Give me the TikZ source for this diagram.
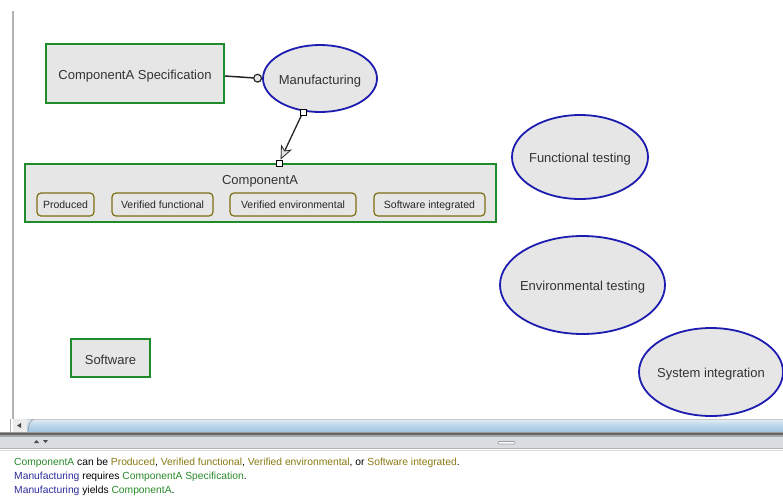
\documentclass[tikz,border=0pt]{standalone}
\usepackage{fontspec}
\setmainfont{Liberation Sans}
\usetikzlibrary{shapes.geometric,arrows.meta}
\definecolor{objgreen}{HTML}{1E8C2A}
\definecolor{procblue}{HTML}{1C1CB0}
\definecolor{stateolive}{HTML}{7D6E10}
\definecolor{boxfill}{HTML}{E6E6E6}
\definecolor{txtgreen}{HTML}{2A8A2A}
\definecolor{txtolive}{HTML}{8A7A12}
\definecolor{txtblue}{HTML}{2B2B9B}
\definecolor{barTop}{HTML}{E4EEF6}
\definecolor{barMid}{HTML}{BBD6EA}
\definecolor{barBot}{HTML}{A3C6E1}
\definecolor{paneGray}{HTML}{D9DCE0}
\tikzset{
  object/.style={draw=objgreen, line width=2pt, fill=boxfill, rectangle, inner sep=0pt,
    font=\fontsize{13}{15}\selectfont, text=black!80, text height=12.5pt, text depth=0pt},
  process/.style={draw=procblue, line width=1.8pt, fill=boxfill, ellipse, inner xsep=-6pt, inner ysep=0pt,
    font=\fontsize{13}{15}\selectfont, text=black!80, text height=11.5pt, text depth=0pt},
  statebox/.style={draw=stateolive, line width=1.2pt, fill=boxfill, rectangle, rounded corners=4pt,
    inner sep=0pt, minimum height=23pt, font=\fontsize{10.5}{12}\selectfont, text=black!85,
    text height=8.5pt, text depth=0pt},
  port/.style={draw=black, fill=white, line width=0.8pt, rectangle, inner sep=0pt, minimum size=6pt},
  link/.style={draw=black!85, line width=1.5pt},
}
\begin{document}
\begin{tikzpicture}[x=1pt,y=-1pt]
\useasboundingbox (0,0) rectangle (783,496);
\fill[white] (0,0) rectangle (783,496);

% canvas left edge
\draw[black!30, line width=1.5pt] (13,11) -- (13,419);

% things
\node[object, minimum width=178pt, minimum height=59pt] (spec) at (135,73.5) {ComponentA Specification};
\node[object, minimum width=471pt, minimum height=58pt] (compA) at (260.5,193) {};
\node[font=\fontsize{13}{15}\selectfont, text=black!80, text height=9.5pt, text depth=0pt, inner sep=0pt] (compAlabel) at (260,180) {ComponentA};
\node[statebox, minimum width=57pt] (produced) at (65.5,204.5) {Produced};
\node[statebox, minimum width=101pt] (verfunc) at (162.5,204.5) {Verified functional};
\node[statebox, minimum width=126pt] (verenv) at (293,204.5) {Verified environmental};
\node[statebox, minimum width=111pt] (swint) at (429.5,204.5) {Software integrated};
\node[object, minimum width=79pt, minimum height=38pt] (software) at (110.5,358) {Software};

% processes
\node[process, minimum width=114pt, minimum height=67pt] (mfg) at (320,78.5) {Manufacturing};
\node[process, minimum width=136pt, minimum height=84pt] (func) at (580,157) {Functional testing};
\node[process, minimum width=165pt, minimum height=98pt] (env) at (582.5,285) {Environmental testing};
\node[process, minimum width=144pt, minimum height=88pt] (sysint) at (711,372) {System integration};

% instrument link
\draw[link, -{Circle[open, length=9pt, fill=boxfill, line width=1.2pt]}] ([yshift=-2.5pt]spec.east) -- (mfg.west);

% result link
\node[port] (outport) at (303,112) {};
\node[port] (inport) at (279,163) {};
\draw[link, line width=1.3pt, -{Stealth[length=14pt, width=12pt, inset=4pt, fill=black!10, line width=0.8pt]}]
  (outport) -- (inport);
\node[port] at (303,112) {};
\node[port] at (279,163) {};

% horizontal scroll bar
\shade[top color=barTop, bottom color=barBot, middle color=barMid] (13,419) rectangle (783,431.5);
\draw[black!22, line width=0.8pt] (13,419.4) -- (783,419.4);
\fill[black!8] (13,419) rectangle (27,431.5);
\draw[black!40, line width=0.6pt] (28,431.5) .. controls (29,424) and (30,420) .. (34,419.5);
\fill[black!70] (17,425.5) -- (21,423) -- (21,428) -- cycle;
\draw[black!30, line width=1pt] (10,419) -- (10,432);

% split pane divider
\fill[black!40] (0,431.5) rectangle (783,433);
\fill[black!60] (0,433) rectangle (783,435);
\fill[black!35] (0,435) rectangle (783,437);
\fill[paneGray] (0,437) rectangle (783,448);
\draw[black!30, line width=0.8pt] (0,448.5) -- (783,448.5);
\draw[black!15, line width=0.8pt] (0,450) -- (783,450);
\fill[black!70] (34,443) -- (36.5,440) -- (39,443) -- cycle;
\fill[black!70] (43,440) -- (45.5,443) -- (48,440) -- cycle;
\draw[black!40, fill=white, rounded corners=1pt, line width=0.6pt] (498,441.5) rectangle (515,444);

% generated sentences
\begin{scope}[every node/.style={anchor=base west, inner sep=0pt, font=\fontsize{10.3}{12}\selectfont}]
\node (line1) at (14,465) {\textcolor{txtgreen}{ComponentA} can be \textcolor{txtolive}{Produced}, \textcolor{txtolive}{Verified functional}, \textcolor{txtolive}{Verified environmental}, or \textcolor{txtolive}{Software integrated}.};
\node (line2) at (14,479) {\textcolor{txtblue}{Manufacturing} requires \textcolor{txtgreen}{ComponentA Specification}.};
\node (line3) at (14,493) {\textcolor{txtblue}{Manufacturing} yields \textcolor{txtgreen}{ComponentA}.};
\end{scope}
\end{tikzpicture}
\end{document}
